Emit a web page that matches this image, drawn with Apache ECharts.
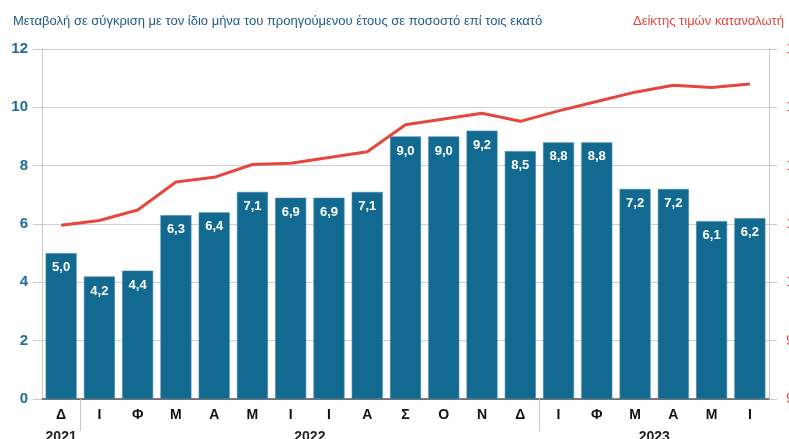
<!DOCTYPE html>
<html>
<head>
<meta charset="utf-8">
<script src="https://cdn.jsdelivr.net/npm/echarts@6/dist/echarts.min.js"></script>
<style>
    html, body { margin: 0; padding: 0; background: #fff; }
    #chart { width: 789px; height: 439px; }
</style>
</head>
<body>
<div id="chart"></div>
<script>
// month initials, Dec 2021 .. Jun 2023
let months = ['Δ', 'Ι', 'Φ', 'Μ', 'Α', 'Μ', 'Ι', 'Ι', 'Α', 'Σ', 'Ο', 'Ν', 'Δ', 'Ι', 'Φ', 'Μ', 'Α', 'Μ', 'Ι'];
let changeYoY = [5.0, 4.2, 4.4, 6.3, 6.4, 7.1, 6.9, 6.9, 7.1, 9.0, 9.0, 9.2, 8.5, 8.8, 8.8, 7.2, 7.2, 6.1, 6.2];
let cpiIndex = [104.9, 105.3, 106.2, 108.6, 109.0, 110.1, 110.2, 110.7, 111.2, 113.5, 114.0, 114.5, 113.8, 114.7, 115.5, 116.3, 116.9, 116.7, 117.0];
// year labels sit at the centre of each year's months
let yearPos = [0, 6.5, 15.5];
let yearNames = ['2021', '2022', '2023'];
let yearBreaks = [0.5, 12.5];

let font = '"Liberation Sans", Arial, sans-serif';
let blue = '#136a91';
let red = '#e3473d';

let chart = echarts.init(document.getElementById('chart'));
let option = {
    animation: false,
    textStyle: { fontFamily: font },
    title: [{
        text: 'Μεταβολή σε σύγκριση με τον ίδιο μήνα του προηγούμενου έτους σε ποσοστό επί τοις εκατό',
        left: 8,
        top: 10,
        textStyle: { fontSize: 13, fontWeight: 'normal', color: '#1f5a86', fontFamily: font }
    }, {
        text: 'Δείκτης τιμών καταναλωτή',
        left: 628,
        top: 10,
        textStyle: { fontSize: 13, fontWeight: 'normal', color: red, fontFamily: font }
    }],
    grid: { left: 42, right: 20, top: 49, bottom: 40, containLabel: false, outerBoundsMode: 'none' },
    xAxis: [{
        type: 'category',
        data: months,
        axisLine: { lineStyle: { color: '#555', width: 1.5 } },
        axisTick: { show: false },
        axisLabel: { interval: 0, color: '#111', fontWeight: 'bold', fontSize: 14, margin: 9 }
    }, {
        type: 'value',
        position: 'bottom',
        min: -0.5,
        max: 18.5,
        splitLine: { show: false },
        axisLine: { show: false },
        axisTick: { show: true, customValues: yearBreaks, length: 32, lineStyle: { color: '#c8c8c8' } },
        axisLabel: {
            customValues: yearPos,
            margin: 31,
            color: '#222',
            fontWeight: 'bold',
            fontSize: 14,
            formatter: (v) => yearNames[yearPos.indexOf(v)] || ''
        }
    }],
    yAxis: [{
        type: 'value',
        min: 0,
        max: 12,
        interval: 2,
        axisLine: { show: true, onZero: false, lineStyle: { color: '#c8c8c8' } },
        axisTick: { show: true, length: 9, lineStyle: { color: '#c8c8c8' } },
        splitLine: { lineStyle: { color: '#cfcfcf' } },
        axisLabel: { color: '#1f6c9a', fontWeight: 'bold', fontSize: 15, margin: 14 }
    }, {
        type: 'value',
        min: 90,
        max: 120,
        interval: 5,
        position: 'right',
        axisLine: { show: true, onZero: false, lineStyle: { color: '#c8c8c8' } },
        axisTick: { show: true, length: 8, lineStyle: { color: '#c8c8c8' } },
        splitLine: { show: false },
        axisLabel: { color: red, fontSize: 15, margin: 17 }
    }],
    series: [{
        name: 'Μεταβολή',
        type: 'bar',
        data: changeYoY,
        barCategoryGap: '19%',
        itemStyle: { color: blue, borderColor: '#3f86a8', borderWidth: 0.6 },
        label: {
            show: true,
            position: 'insideTop',
            distance: 8,
            color: '#fff',
            fontWeight: 'bold',
            fontSize: 13,
            formatter: (p) => p.value.toFixed(1).replace('.', ',')
        }
    }, {
        name: 'Δείκτης τιμών καταναλωτή',
        type: 'line',
        yAxisIndex: 1,
        data: cpiIndex,
        showSymbol: false,
        smooth: false,
        lineStyle: { color: red, width: 3 },
        z: 5
    }]
};
chart.setOption(option);
</script>
</body>
</html>
